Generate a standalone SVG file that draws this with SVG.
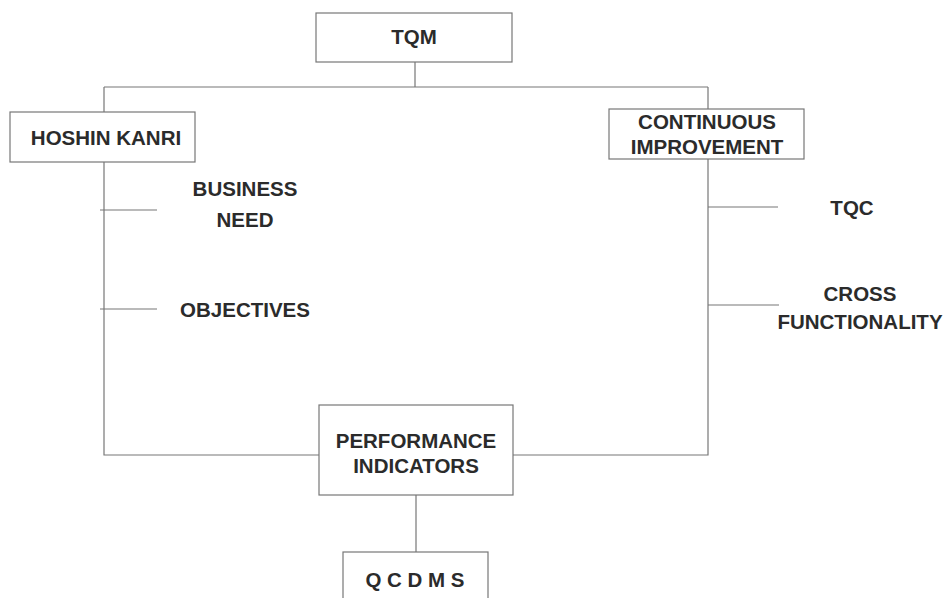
<svg xmlns="http://www.w3.org/2000/svg" width="951" height="598" viewBox="0 0 951 598">
<style>
.box{fill:#fff;stroke:#777;stroke-width:1.2}
.ln{fill:none;stroke:#777;stroke-width:1.2}
text{font-family:"Liberation Sans",Arial,sans-serif;font-weight:bold;font-size:20.5px;fill:#2b2b2b;text-anchor:middle}
</style>
<rect width="951" height="598" fill="#fff"/>
<g id="connectors">
<path class="ln" d="M415 62V87M104 87H708M104 87V455H319M708 87V455H513M416 495V552"/>
<path class="ln" d="M100 210H157M100 309H157M708 207H778M708 305H779"/>
</g>
<g id="tqm"><rect class="box" x="316" y="13" width="196" height="49"/><text x="414" y="44">TQM</text></g>
<g id="hoshin"><rect class="box" x="10" y="112" width="185" height="50"/><text x="106" y="145">HOSHIN KANRI</text></g>
<g id="ci"><rect class="box" x="609" y="109" width="195" height="50"/><text x="707" y="129">CONTINUOUS</text><text x="707" y="154">IMPROVEMENT</text></g>
<g id="business"><text x="245" y="196">BUSINESS</text><text x="245" y="227">NEED</text></g>
<g id="objectives"><text x="245" y="317">OBJECTIVES</text></g>
<g id="tqc"><text x="852" y="215">TQC</text></g>
<g id="cross"><text x="860" y="301">CROSS</text><text x="860" y="329">FUNCTIONALITY</text></g>
<g id="pi"><rect class="box" x="319" y="405" width="194" height="90"/><text x="416" y="448">PERFORMANCE</text><text x="416" y="473">INDICATORS</text></g>
<g id="qcdms"><rect class="box" x="343" y="552" width="145" height="60"/><text x="415" y="587">Q C D M S</text></g>
</svg>
